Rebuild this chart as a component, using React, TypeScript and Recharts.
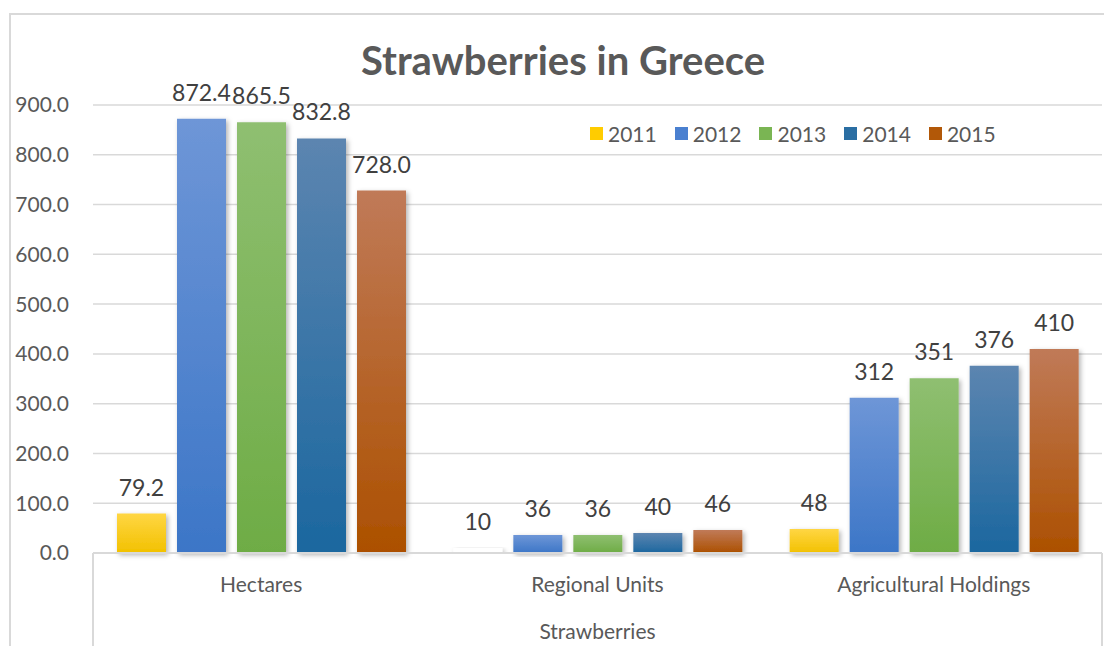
import { BarChart, Bar, XAxis, YAxis, CartesianGrid, Legend, LabelList, Cell } from "recharts";

const categories = ["Hectares", "Regional Units", "Agricultural Holdings"];
const years = ["2011", "2012", "2013", "2014", "2015"];
const y2011 = [79.2, 10, 48];
const y2012 = [872.4, 36, 312];
const y2013 = [865.5, 36, 351];
const y2014 = [832.8, 40, 376];
const y2015 = [728.0, 46, 410];
const yTicks = [0, 100, 200, 300, 400, 500, 600, 700, 800, 900];

const seriesValues = [y2011, y2012, y2013, y2014, y2015];

// gradient stops: top, bottom
const GRADIENTS = [
  ["#FFD643", "#F2C100"],
  ["#6E96D7", "#3C76C7"],
  ["#8FBF71", "#6EAC45"],
  ["#5C85B0", "#1B679F"],
  ["#C07A58", "#AC5000"],
];
const SWATCH = ["#FFCC00", "#4A80D0", "#7AB553", "#2A6EA3", "#B25808"];

const data = categories.map((name, i) => {
  const row: Record<string, string | number> = { name };
  years.forEach((y, s) => {
    row[y] = seriesValues[s][i];
  });
  return row;
});

const FONT = "Lato, 'Open Sans', sans-serif";
const TEXT = "#595959";

const renderLabel = (props: any) => {
  const { x, y, width, value, index } = props;
  const txt = index === 0 ? Number(value).toFixed(1) : String(value);
  return (
    <text x={x + width / 2} y={y - 18} textAnchor="middle" fontSize={23} fill="#404040" fontFamily={FONT}>
      {txt}
    </text>
  );
};

const LegendContent = () => (
  <div style={{ display: "flex", fontFamily: FONT, fontSize: 21, color: TEXT }}>
    {years.map((y, i) => (
      <div key={y} style={{ display: "flex", alignItems: "center", marginRight: 18 }}>
        <span style={{ width: 13, height: 13, background: SWATCH[i], display: "inline-block", marginRight: 5 }} />
        <span>{y}</span>
      </div>
    ))}
  </div>
);

export default function App() {
  return (
    <div style={{ position: "absolute", left: 0, top: 0, width: 1104, height: 646, overflow: "hidden", background: "#fff" }}>
      {/* outer chart frame */}
      <div style={{ position: "absolute", left: 9, top: 13, width: 1200, height: 700, border: "2px solid #d9d9d9" }} />
      <div
        style={{
          position: "absolute",
          left: 0,
          top: 36,
          width: 1126,
          textAlign: "center",
          fontFamily: FONT,
          fontWeight: 700,
          fontSize: 40,
          color: TEXT,
        }}
      >
        Strawberries in Greece
      </div>
      {/* multi-level axis frame lines */}
      <div style={{ position: "absolute", left: 92, top: 553, width: 2, height: 93, background: "#d9d9d9" }} />
      <div style={{ position: "absolute", left: 1101, top: 553, width: 2, height: 93, background: "#d9d9d9" }} />
      <div style={{ position: "absolute", left: 0, top: 0 }}>
        <BarChart
          width={1104}
          height={646}
          data={data}
          margin={{ top: 105, right: 2, left: 0, bottom: 0 }}
          barCategoryGap={24}
          barGap={11}
        >
          <defs>
            {GRADIENTS.map((g, i) => (
              <linearGradient key={i} id={`grad${i}`} x1="0" y1="0" x2="0" y2="1">
                <stop offset="0%" stopColor={g[0]} />
                <stop offset="100%" stopColor={g[1]} />
              </linearGradient>
            ))}
            <filter id="shadow" x="-20%" y="-20%" width="140%" height="140%">
              <feDropShadow dx="2" dy="2" stdDeviation="2.5" floodColor="#000" floodOpacity="0.3" />
            </filter>
          </defs>
          <CartesianGrid vertical={false} stroke="#d9d9d9" strokeWidth={1.5} />
          <XAxis
            dataKey="name"
            height={93}
            tickLine={false}
            tickSize={0}
            tickMargin={24}
            axisLine={{ stroke: "#d9d9d9", strokeWidth: 2 }}
            tick={{ fill: TEXT, fontSize: 21, fontFamily: FONT }}
            label={{ value: "Strawberries", position: "insideBottom", offset: 7, fill: TEXT, fontSize: 21, fontFamily: FONT }}
          />
          <YAxis
            width={93}
            domain={[0, 900]}
            ticks={yTicks}
            tickFormatter={(v: number) => v.toFixed(1)}
            axisLine={false}
            tickLine={false}
            tickSize={0}
            tickMargin={24}
            tick={{ fill: TEXT, fontSize: 21, fontFamily: FONT }}
          />
          <Legend
            verticalAlign="middle"
            layout="horizontal"
            content={<LegendContent />}
            wrapperStyle={{ position: "absolute", top: 121, left: 590, width: "auto" }}
          />
          {years.map((y, i) => (
            <Bar
              key={y}
              dataKey={y}
              fill={`url(#grad${i})`}
              style={{ filter: "url(#shadow)" }}
              isAnimationActive={false}
            >
              {i === 0 &&
                categories.map((c, ci) => <Cell key={c} fill={ci === 1 ? "#ffffff" : `url(#grad${i})`} />)}
              <LabelList dataKey={y} content={renderLabel} />
            </Bar>
          ))}
        </BarChart>
      </div>
    </div>
  );
}
